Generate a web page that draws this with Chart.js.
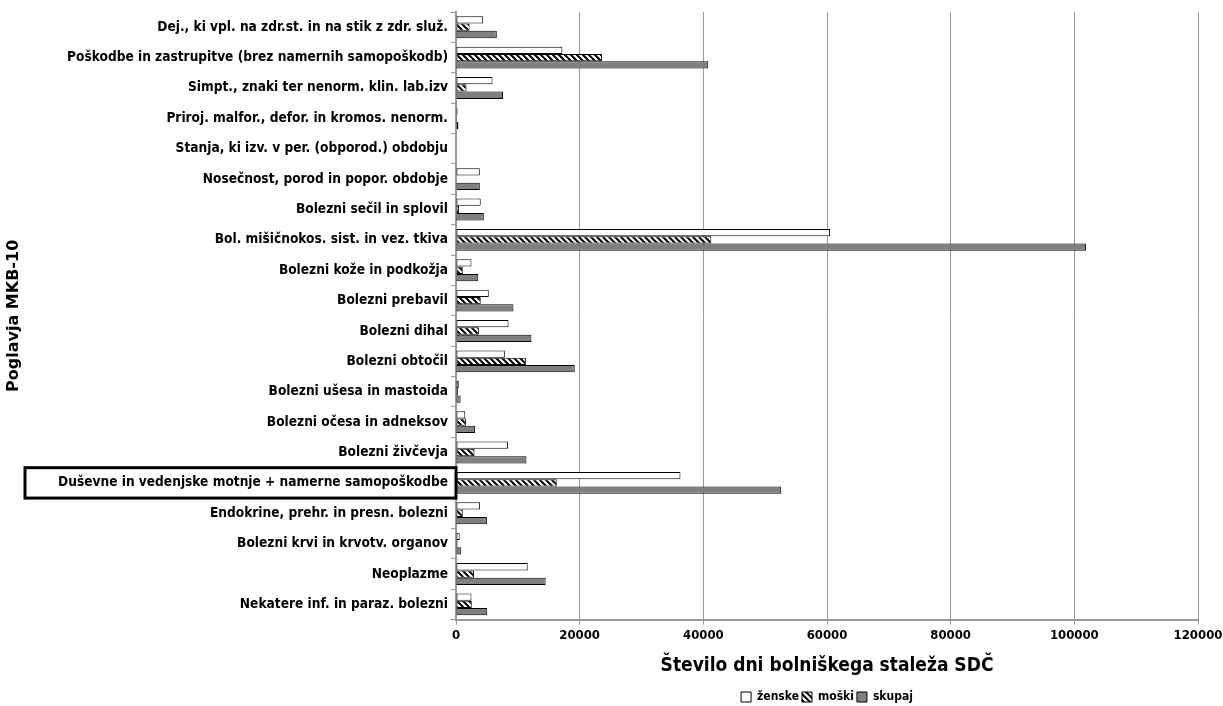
<!DOCTYPE html>
<html>
<head>
<meta charset="utf-8">
<script src="https://cdn.jsdelivr.net/npm/chart.js@4.4.1/dist/chart.umd.min.js"></script>
<style>
  html, body { margin: 0; padding: 0; background: #fff; }
  #wrap { width: 1223px; height: 706px; position: relative; }
</style>
</head>
<body>
<div id="wrap"><canvas id="c" width="1223" height="706"></canvas></div>
<script>
// Poglavja MKB-10 (ICD-10 chapters)
const categories = [
  'Dej., ki vpl. na zdr.st. in na stik z zdr. služ.',
  'Poškodbe in zastrupitve (brez namernih samopoškodb)',
  'Simpt., znaki ter nenorm. klin. lab.izv',
  'Priroj. malfor., defor. in kromos. nenorm.',
  'Stanja, ki izv. v per. (obporod.) obdobju',
  'Nosečnost, porod in popor. obdobje',
  'Bolezni sečil in splovil',
  'Bol. mišičnokos. sist. in vez. tkiva',
  'Bolezni kože in podkožja',
  'Bolezni prebavil',
  'Bolezni dihal',
  'Bolezni obtočil',
  'Bolezni ušesa in mastoida',
  'Bolezni očesa in adneksov',
  'Bolezni živčevja',
  'Duševne in vedenjske motnje + namerne samopoškodbe',
  'Endokrine, prehr. in presn. bolezni',
  'Bolezni krvi in krvotv. organov',
  'Neoplazme',
  'Nekatere inf. in paraz. bolezni'
];

// Število dni bolniškega staleža
const zenske = [4400, 17200, 5900, 250, 0, 3850, 4000, 60500, 2500, 5300, 8500, 7900, 450, 1500, 8400, 36300, 3900, 600, 11600, 2500];
const moski  = [2200, 23600, 1700, 150, 0, 0, 500, 41300, 1100, 4000, 3700, 11300, 300, 1600, 3000, 16300, 1100, 250, 2900, 2550];
const skupaj = [6600, 40800, 7600, 400, 0, 3850, 4500, 101900, 3600, 9300, 12200, 19200, 750, 3100, 11400, 52600, 5000, 850, 14500, 5050];

const seriesNames = ['ženske', 'moški', 'skupaj'];
const xTicks = [0, 20000, 40000, 60000, 80000, 100000, 120000];
const highlighted = 'Duševne in vedenjske motnje + namerne samopoškodbe';

// diagonal hatch fill for the "moški" series
function hatch() {
  const s = 6;
  const p = document.createElement('canvas');
  p.width = s; p.height = s;
  const g = p.getContext('2d');
  g.fillStyle = '#fff';
  g.fillRect(0, 0, s, s);
  g.strokeStyle = '#000';
  g.lineWidth = 2;
  g.beginPath();
  g.moveTo(-1, -1); g.lineTo(s + 1, s + 1);
  g.moveTo(-1, s - 1); g.lineTo(1, s + 1);
  g.moveTo(s - 1, -1); g.lineTo(s + 1, 1);
  g.stroke();
  return g.createPattern(p, 'repeat');
}

const ctx = document.getElementById('c').getContext('2d');

// frame around the highlighted category label
const highlightBox = {
  id: 'highlightBox',
  afterDraw(chart) {
    const y = chart.scales.y;
    const i = categories.indexOf(highlighted);
    if (i < 0) return;
    const half = (y.getPixelForValue(1) - y.getPixelForValue(0)) / 2;
    const cy = y.getPixelForValue(i);
    const c = chart.ctx;
    c.save();
    c.strokeStyle = '#000';
    c.lineWidth = 3;
    c.strokeRect(25, cy - half, y.right - 25, half * 2);
    c.restore();
  }
};

const font = 'DejaVu Sans Condensed';

new Chart(ctx, {
  type: 'bar',
  data: {
    labels: categories,
    datasets: [
      { label: seriesNames[0], data: zenske, backgroundColor: '#ffffff', borderColor: '#000', borderWidth: 1 },
      { label: seriesNames[1], data: moski, backgroundColor: hatch(), borderColor: '#000', borderWidth: 1 },
      { label: seriesNames[2], data: skupaj, backgroundColor: '#808080', borderColor: '#000', borderWidth: 1 }
    ]
  },
  options: {
    indexAxis: 'y',
    responsive: false,
    animation: false,
    layout: { padding: { top: 12, right: 25, left: 4, bottom: -7 } },
    datasets: { bar: { categoryPercentage: 0.72, barPercentage: 1.0, borderSkipped: false } },
    scales: {
      x: {
        min: 0, max: 120000,
        afterBuildTicks(scale) { scale.ticks = xTicks.map(v => ({ value: v })); },
        afterFit(scale) { scale.paddingRight = 0; },
        grid: { color: '#999', drawTicks: true, tickLength: 5, tickColor: '#999' },
        border: { color: '#999', width: 2 },
        ticks: { color: '#000', font: { family: font, size: 13, weight: 'bold' }, padding: 3, maxRotation: 0,
                 callback: v => String(v) },
        title: { display: true, text: 'Število dni bolniškega staleža SDČ', color: '#000',
                 font: { family: font, size: 19, weight: 'bold' }, padding: { top: 8, bottom: 11 } }
      },
      y: {
        grid: { drawOnChartArea: false, drawTicks: true, tickLength: 5, color: '#999' },
        border: { color: '#999', width: 2 },
        ticks: { color: '#000', font: { family: font, size: 13.6, weight: 'bold' }, padding: 3, autoSkip: false },
        title: { display: true, text: 'Poglavja MKB-10', color: '#000',
                 font: { family: 'DejaVu Sans', size: 16, weight: 'bold' }, padding: 0 },
        afterFit(scale) { scale.width = 452; }
      }
    },
    plugins: {
      legend: {
        position: 'bottom',
        fullSize: false,
        labels: { color: '#000', font: { family: font, size: 12, weight: 'bold' },
                  boxWidth: 10, boxHeight: 10, padding: 3 }
      },
      tooltip: { enabled: false }
    }
  },
  plugins: [highlightBox]
});
</script>
</body>
</html>
